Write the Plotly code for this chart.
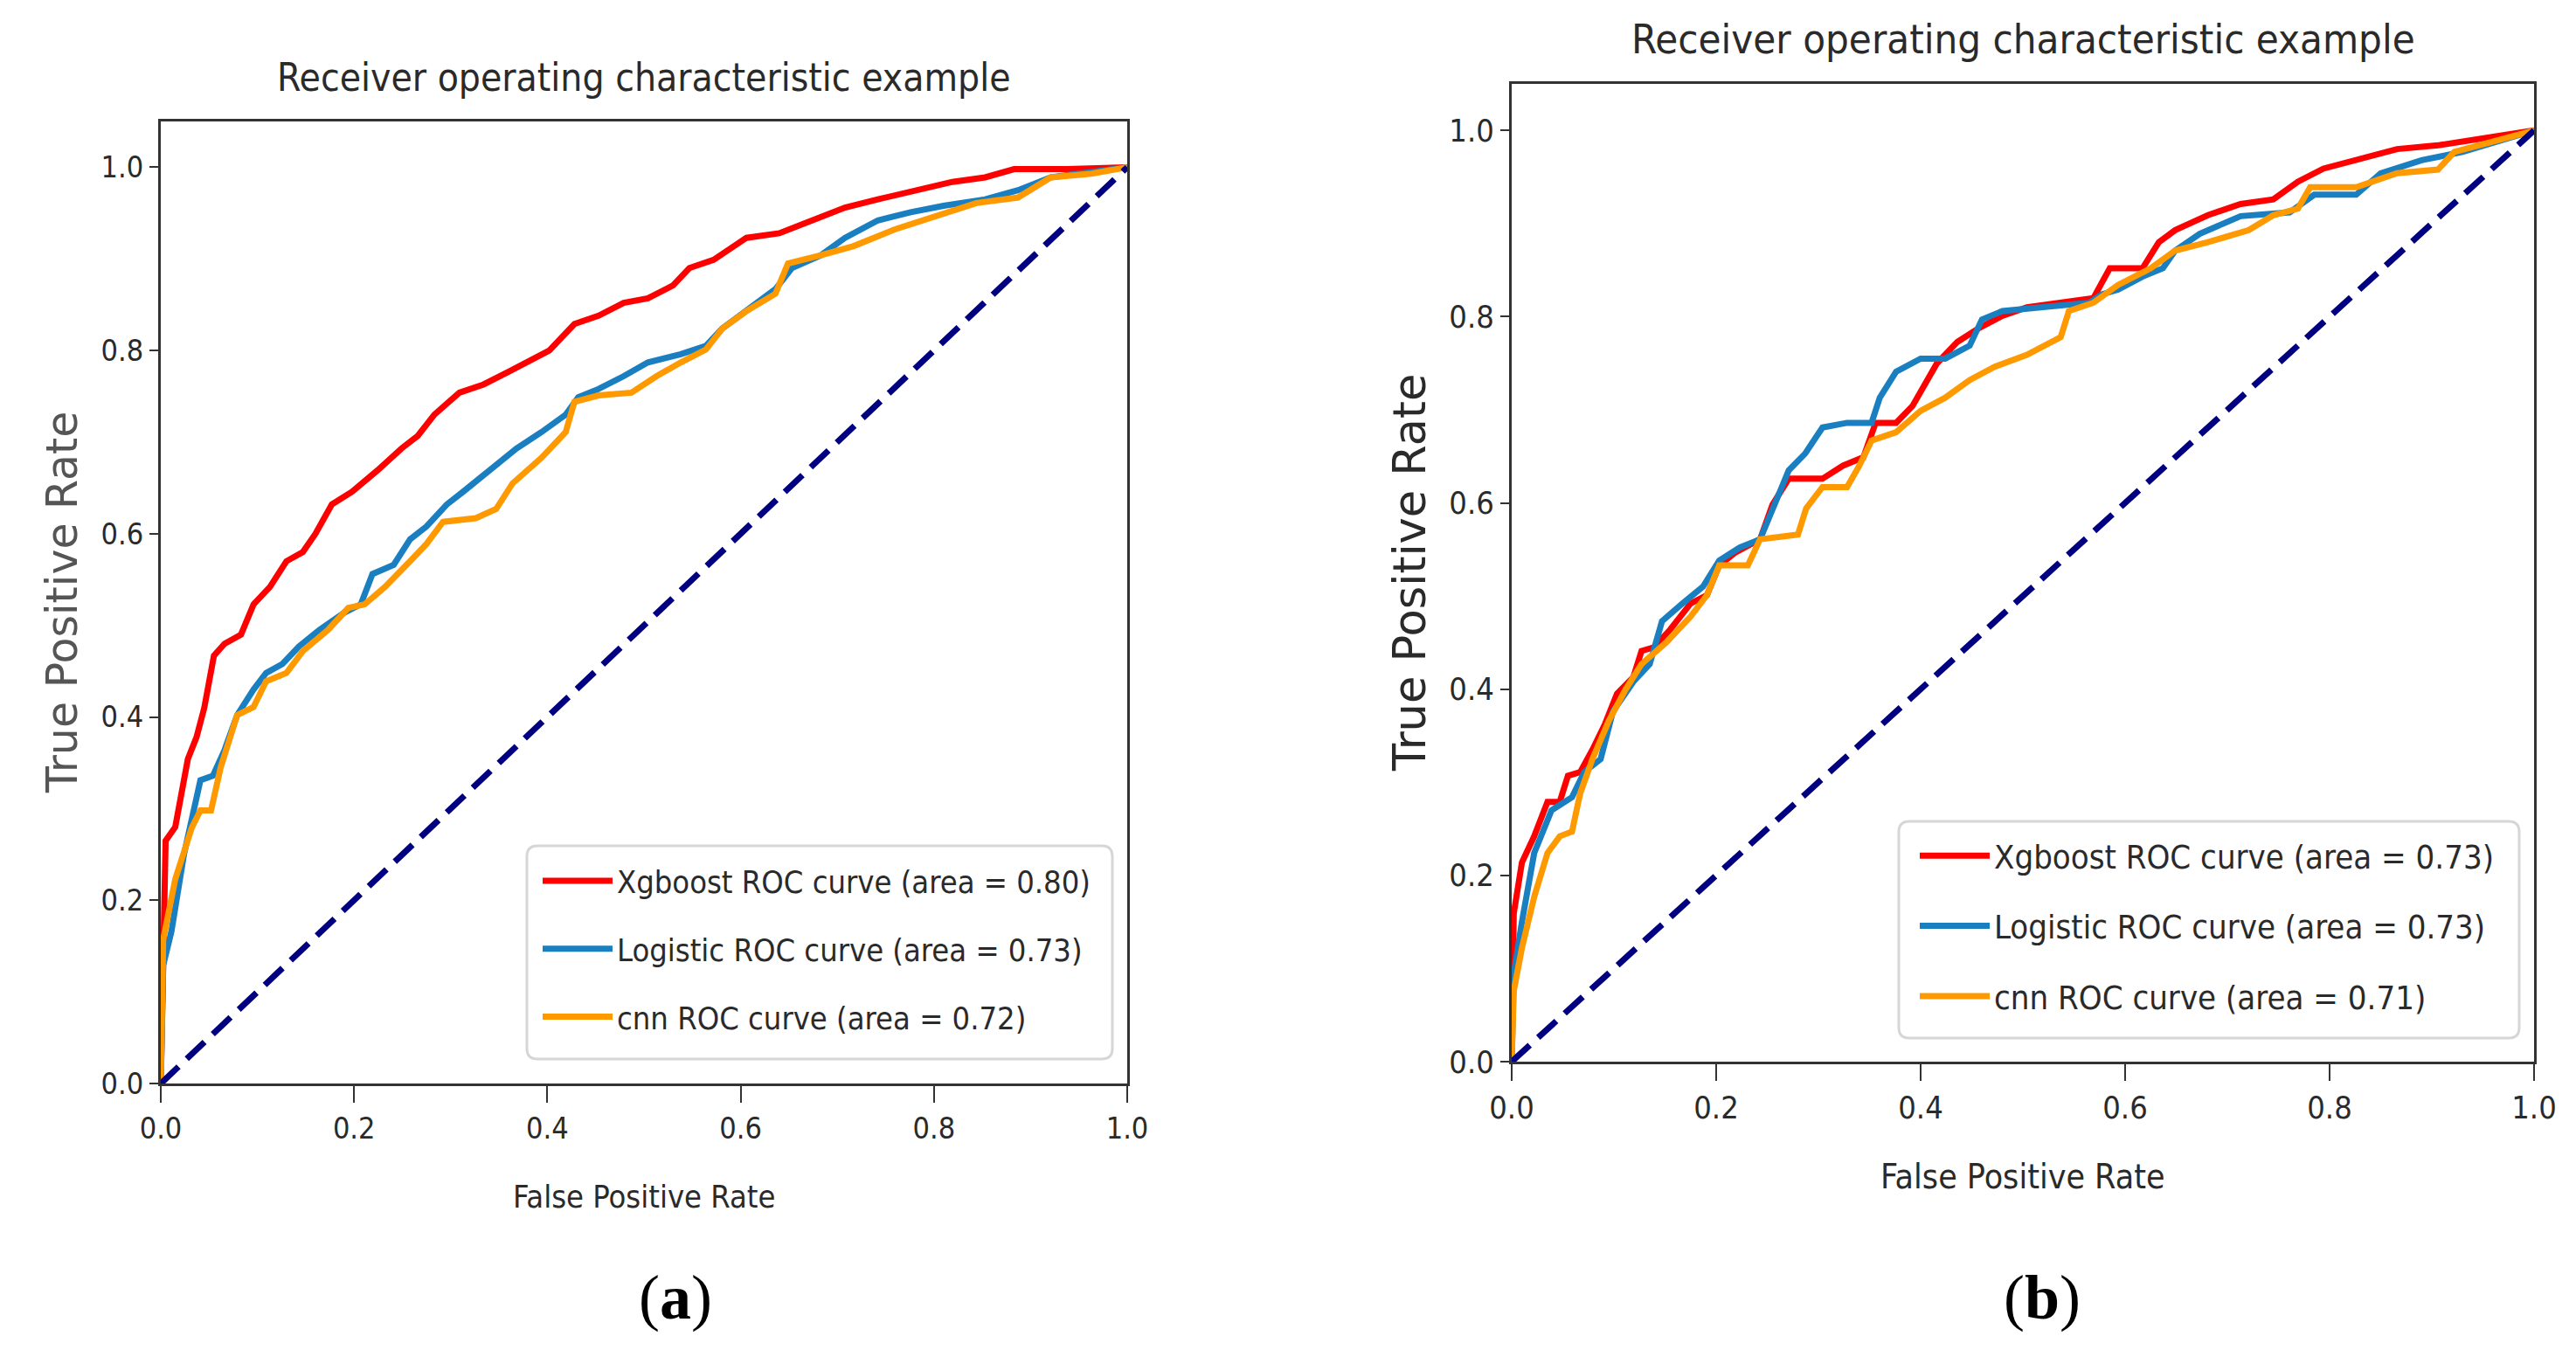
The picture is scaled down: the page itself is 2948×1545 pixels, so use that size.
import plotly.graph_objects as go

# ---- panel (a) ----
a_xgb_fpr = [0, 0.0025, 0.005, 0.015, 0.028, 0.037, 0.045, 0.055, 0.066, 0.083, 0.096, 0.113, 0.13, 0.147,
             0.16, 0.177, 0.198, 0.224, 0.249, 0.266, 0.283, 0.309, 0.334, 0.36, 0.385, 0.402, 0.428, 0.453,
             0.479, 0.504, 0.53, 0.547, 0.572, 0.606, 0.64, 0.674, 0.708, 0.742, 0.785, 0.819, 0.853, 0.883,
             0.938, 1.0]
a_xgb_tpr = [0, 0.18, 0.265, 0.28, 0.354, 0.378, 0.41, 0.467, 0.48, 0.49, 0.523, 0.542, 0.57, 0.58,
             0.6, 0.632, 0.646, 0.669, 0.693, 0.707, 0.73, 0.754, 0.763, 0.777, 0.791, 0.8, 0.829, 0.838,
             0.852, 0.857, 0.871, 0.89, 0.899, 0.923, 0.928, 0.942, 0.956, 0.965, 0.975, 0.984, 0.989, 0.998,
             0.998, 1.0]

a_log_fpr = [0, 0.0025, 0.011, 0.024, 0.041, 0.054, 0.066, 0.079, 0.096, 0.109, 0.126, 0.143, 0.164, 0.19,
             0.207, 0.219, 0.241, 0.258, 0.275, 0.296, 0.313, 0.33, 0.347, 0.368, 0.394, 0.419, 0.432, 0.453,
             0.479, 0.504, 0.538, 0.564, 0.581, 0.606, 0.636, 0.653, 0.683, 0.708, 0.742, 0.776, 0.81, 0.853,
             0.887, 0.921, 0.963, 1.0]
a_log_tpr = [0, 0.129, 0.166, 0.25, 0.331, 0.336, 0.364, 0.402, 0.43, 0.448, 0.458, 0.477, 0.495, 0.514,
             0.523, 0.556, 0.566, 0.594, 0.608, 0.632, 0.646, 0.66, 0.674, 0.693, 0.711, 0.73, 0.749, 0.758,
             0.772, 0.787, 0.796, 0.805, 0.824, 0.843, 0.867, 0.89, 0.904, 0.923, 0.942, 0.951, 0.958, 0.965,
             0.975, 0.989, 0.995, 1.0]

a_cnn_fpr = [0, 0.0025, 0.015, 0.032, 0.041, 0.052, 0.062, 0.079, 0.096, 0.109, 0.13, 0.147, 0.173, 0.194,
             0.211, 0.232, 0.258, 0.275, 0.292, 0.326, 0.347, 0.364, 0.394, 0.419, 0.428, 0.453, 0.487, 0.513,
             0.538, 0.564, 0.581, 0.606, 0.636, 0.649, 0.683, 0.717, 0.759, 0.802, 0.844, 0.887, 0.921, 0.963,
             1.0]
a_cnn_tpr = [0, 0.157, 0.223, 0.279, 0.298, 0.298, 0.345, 0.402, 0.411, 0.439, 0.448, 0.472, 0.495, 0.519,
             0.523, 0.542, 0.57, 0.589, 0.613, 0.617, 0.627, 0.655, 0.683, 0.711, 0.744, 0.751, 0.754, 0.772,
             0.787, 0.801, 0.824, 0.843, 0.862, 0.895, 0.904, 0.914, 0.932, 0.947, 0.961, 0.967, 0.989, 0.993,
             1.0]

# ---- panel (b) ----
b_xgb_fpr = [0, 0.002, 0.01, 0.022, 0.035, 0.047, 0.055, 0.067, 0.079, 0.091, 0.103, 0.119, 0.127, 0.139,
             0.155, 0.175, 0.191, 0.203, 0.219, 0.243, 0.255, 0.271, 0.304, 0.324, 0.344, 0.356, 0.376, 0.392,
             0.416, 0.436, 0.456, 0.48, 0.504, 0.537, 0.569, 0.585, 0.617, 0.633, 0.649, 0.681, 0.713, 0.745,
             0.769, 0.794, 0.826, 0.866, 0.906, 0.946, 1.0]
b_xgb_tpr = [0, 0.159, 0.214, 0.242, 0.279, 0.279, 0.307, 0.311, 0.335, 0.362, 0.395, 0.413, 0.441, 0.445,
             0.464, 0.492, 0.501, 0.533, 0.547, 0.561, 0.598, 0.626, 0.626, 0.64, 0.649, 0.686, 0.686, 0.704,
             0.75, 0.773, 0.787, 0.801, 0.81, 0.815, 0.82, 0.852, 0.852, 0.88, 0.893, 0.909, 0.921, 0.926,
             0.945, 0.959, 0.968, 0.98, 0.984, 0.991, 1.0]

b_log_fpr = [0, 0.002, 0.01, 0.022, 0.039, 0.059, 0.071, 0.087, 0.099, 0.119, 0.135, 0.147, 0.167, 0.187,
             0.203, 0.223, 0.243, 0.259, 0.271, 0.287, 0.304, 0.328, 0.352, 0.36, 0.376, 0.4, 0.424, 0.448,
             0.46, 0.48, 0.52, 0.565, 0.577, 0.593, 0.617, 0.637, 0.649, 0.673, 0.713, 0.761, 0.785, 0.826,
             0.85, 0.89, 0.93, 1.0]
b_log_tpr = [0, 0.094, 0.15, 0.224, 0.27, 0.284, 0.311, 0.325, 0.376, 0.408, 0.427, 0.473, 0.492, 0.51,
             0.538, 0.552, 0.561, 0.603, 0.635, 0.653, 0.681, 0.686, 0.686, 0.713, 0.741, 0.755, 0.755, 0.769,
             0.797, 0.806, 0.81, 0.815, 0.824, 0.829, 0.843, 0.852, 0.871, 0.889, 0.908, 0.912, 0.931, 0.931,
             0.954, 0.968, 0.977, 1.0]

b_cnn_fpr = [0, 0.002, 0.01, 0.022, 0.035, 0.047, 0.059, 0.067, 0.079, 0.095, 0.111, 0.127, 0.151, 0.175,
             0.191, 0.203, 0.231, 0.243, 0.28, 0.288, 0.304, 0.328, 0.34, 0.352, 0.376, 0.4, 0.424, 0.448,
             0.472, 0.504, 0.537, 0.545, 0.569, 0.593, 0.625, 0.649, 0.681, 0.721, 0.745, 0.769, 0.781, 0.826,
             0.866, 0.906, 0.922, 1.0]
b_cnn_tpr = [0, 0.076, 0.122, 0.177, 0.224, 0.242, 0.247, 0.288, 0.325, 0.366, 0.399, 0.427, 0.45, 0.478,
             0.501, 0.533, 0.533, 0.561, 0.566, 0.594, 0.617, 0.617, 0.64, 0.667, 0.676, 0.699, 0.713, 0.732,
             0.746, 0.759, 0.778, 0.806, 0.815, 0.834, 0.852, 0.871, 0.88, 0.893, 0.909, 0.916, 0.939, 0.939,
             0.954, 0.958, 0.977, 1.0]

diag = [0, 1]

a_names = ["Xgboost ROC curve (area = 0.80)", "Logistic ROC curve (area = 0.73)", "cnn ROC curve (area = 0.72)"]
b_names = ["Xgboost ROC curve (area = 0.73)", "Logistic ROC curve (area = 0.73)", "cnn ROC curve (area = 0.71)"]
colors = ["#ff0000", "#1a7fc1", "#ff9900"]

# the page body keeps its 8px default margin, so the figure is drawn 8px smaller
# and all window-pixel positions below are shifted by that offset
OFF = 8
W, H = 2948 - OFF, 1545 - OFF
TXT = "#2a2a2a"
CFONT = "DejaVu Sans Condensed, DejaVu Sans, sans-serif"


def px_x(v):
    return (v - OFF) / W


def px_y(v):
    return 1 - (v - OFF) / H


fig = go.Figure()

panels = [
    ("x", "y", "legend", a_names, [(a_xgb_fpr, a_xgb_tpr), (a_log_fpr, a_log_tpr), (a_cnn_fpr, a_cnn_tpr)]),
    ("x2", "y2", "legend2", b_names, [(b_xgb_fpr, b_xgb_tpr), (b_log_fpr, b_log_tpr), (b_cnn_fpr, b_cnn_tpr)]),
]
for xa, ya, leg, names, curves in panels:
    for i, (fx, ty) in enumerate(curves):
        fig.add_trace(go.Scatter(x=fx, y=ty, mode="lines", name=names[i],
                                 line=dict(color=colors[i], width=7),
                                 xaxis=xa, yaxis=ya, legend=leg,
                                 legendgroup=leg + str(i)))
    fig.add_trace(go.Scatter(x=diag, y=diag, mode="lines", showlegend=False,
                             line=dict(color="#000080", width=7, dash="28px,13px"),
                             xaxis=xa, yaxis=ya))

ax_common = dict(showline=True, mirror=True, linecolor="#333333", linewidth=3,
                 showgrid=False, zeroline=False, ticks="outside", tickcolor="#333333",
                 tickwidth=2, tickformat=".1f", tick0=0, dtick=0.2, automargin=False)

legend_common = dict(bgcolor="rgba(0,0,0,0)", borderwidth=0,
                     xanchor="left", yanchor="top", traceorder="grouped", tracegroupgap=28,
                     itemwidth=80)

fig.update_layout(
    width=W, height=H,
    margin=dict(l=0, r=0, t=0, b=0, autoexpand=False),
    paper_bgcolor="white", plot_bgcolor="white",
    showlegend=True,
    xaxis=dict(ax_common, domain=[px_x(184), px_x(1290)], range=[0, 1], ticklen=19, anchor="y",
               tickfont=dict(family=CFONT, color=TXT, size=34)),
    yaxis=dict(ax_common, domain=[px_y(1240), px_y(139)], range=[0, 1.05], ticklen=10, anchor="x",
               tickfont=dict(family=CFONT, color=TXT, size=34)),
    xaxis2=dict(ax_common, domain=[px_x(1730), px_x(2900)], range=[0, 1], ticklen=19, anchor="y2",
                tickfont=dict(family=CFONT, color=TXT, size=36)),
    yaxis2=dict(ax_common, domain=[px_y(1215), px_y(96)], range=[0, 1.05], ticklen=10, anchor="x2",
                tickfont=dict(family=CFONT, color=TXT, size=36)),
    legend=dict(legend_common, x=px_x(616), y=px_y(978), font=dict(family=CFONT, color=TXT, size=36)),
    legend2=dict(legend_common, x=px_x(2192), y=px_y(948), font=dict(family=CFONT, color=TXT, size=38)),
)


# legend frames (rounded, light grey) drawn behind the legends
def rounded_box(x0, y0, x1, y1, r=12):
    rx, ry = r / W, r / H
    X0, X1 = px_x(x0), px_x(x1)
    Y0, Y1 = px_y(y0), px_y(y1)  # Y0 top, Y1 bottom
    return (f"M{X0 + rx},{Y0} L{X1 - rx},{Y0} Q{X1},{Y0} {X1},{Y0 - ry} "
            f"L{X1},{Y1 + ry} Q{X1},{Y1} {X1 - rx},{Y1} "
            f"L{X0 + rx},{Y1} Q{X0},{Y1} {X0},{Y1 + ry} "
            f"L{X0},{Y0 - ry} Q{X0},{Y0} {X0 + rx},{Y0} Z")


for box in [(603, 968, 1273, 1212), (2173, 940, 2883, 1188)]:
    fig.add_shape(type="path", path=rounded_box(*box), xref="paper", yref="paper",
                  line=dict(color="#d6d6d6", width=3), fillcolor="rgba(255,255,255,0.85)",
                  layer="above")

annotations = [
    # titles
    dict(text="Receiver operating characteristic example", x=px_x(737), y=px_y(89),
         font=dict(family=CFONT, size=44, color=TXT)),
    dict(text="Receiver operating characteristic example", x=px_x(2315), y=px_y(44),
         font=dict(family=CFONT, size=47, color=TXT)),
    # x axis titles
    dict(text="False Positive Rate", x=px_x(737), y=px_y(1369),
         font=dict(family=CFONT, size=36, color=TXT)),
    dict(text="False Positive Rate", x=px_x(2314), y=px_y(1346),
         font=dict(family=CFONT, size=39, color=TXT)),
    # y axis titles
    dict(text="True Positive Rate", x=px_x(71), y=px_y(690), textangle=-90,
         font=dict(family="DejaVu Sans, sans-serif", size=49, color="#555555")),
    dict(text="True Positive Rate", x=px_x(1613), y=px_y(656), textangle=-90,
         font=dict(family="DejaVu Sans, sans-serif", size=51, color=TXT)),
    # panel labels
    dict(text="(<b>a</b>)", x=px_x(773), y=px_y(1485),
         font=dict(family="Liberation Serif, serif", size=72, color="black")),
    dict(text="(<b>b</b>)", x=px_x(2337), y=px_y(1485),
         font=dict(family="Liberation Serif, serif", size=72, color="black")),
]
for an in annotations:
    fig.add_annotation(an, xref="paper", yref="paper", showarrow=False,
                       xanchor="center", yanchor="middle")

fig.write_html("out.html")
